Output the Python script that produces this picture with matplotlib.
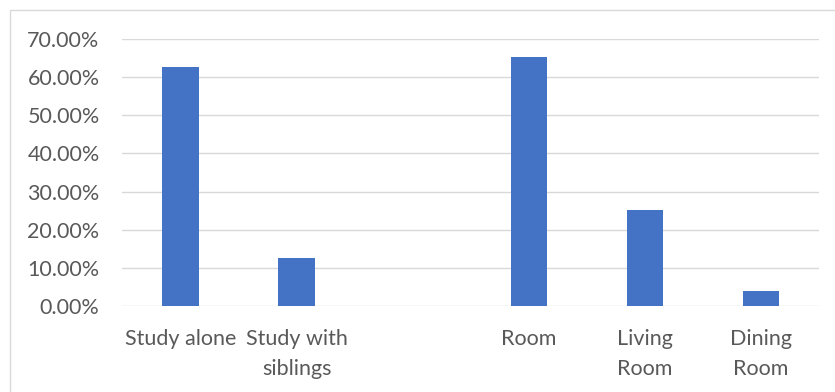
import matplotlib
matplotlib.use("Agg")
import matplotlib.pyplot as plt
from matplotlib.ticker import FuncFormatter, MultipleLocator
from matplotlib.patches import Rectangle

categories = ["Study alone", "Study with\nsiblings", "", "Room", "Living\nRoom", "Dining\nRoom"]
values = [0.628, 0.1245, 0.0, 0.653, 0.251, 0.0386]
present = [True, True, False, True, True, True]

plt.rcParams['font.family'] = ['Lato', 'DejaVu Sans']

fig = plt.figure(figsize=(8.35, 3.92), dpi=100)
fig.patch.set_facecolor('white')
ax = fig.add_axes([122.5/835, 1-305.7/392, (819-122.5)/835, (305.7-39.3)/392])

xs = list(range(len(categories)))
bx = [x for x, p in zip(xs, present) if p]
bv = [v for v, p in zip(values, present) if p]
ax.bar(bx, bv, width=0.313, color='#4472C4', zorder=3)

ax.set_xlim(-0.5, len(categories) - 0.5)
ax.set_ylim(0, 0.70)
ax.yaxis.set_major_locator(MultipleLocator(0.10))
ax.yaxis.set_major_formatter(FuncFormatter(lambda v, p: f"{v*100:.2f}%"))
ax.grid(axis='y', color='#d9d9d9', linewidth=1.0, zorder=0)
ax.set_axisbelow(True)
for s in ax.spines.values():
    s.set_visible(False)
ax.set_xticks(xs)
ax.set_xticklabels(categories, linespacing=1.6)
ax.tick_params(axis='both', length=0, labelsize=15.5, labelcolor='#595959')
ax.tick_params(axis='y', pad=16.5)
ax.tick_params(axis='x', pad=17)

# chart border (partially cropped in the reference)
fig.patches.append(Rectangle((10/835, -0.1), 1.2, 1 - 10/392 + 0.1,
                             transform=fig.transFigure, fill=False,
                             edgecolor='#d9d9d9', linewidth=1.0))

fig.savefig('out.png', dpi=100, facecolor='white')
